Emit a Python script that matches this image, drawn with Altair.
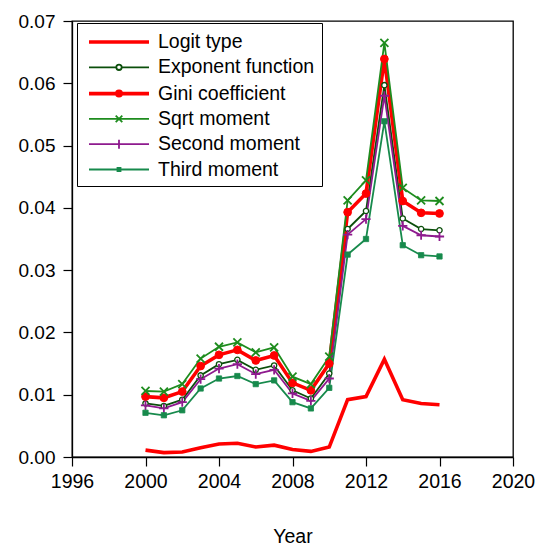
import altair as alt
import pandas as pd


years = list(range(2000, 2017))

logit = [0.0011, 0.0007, 0.0008, 0.0015, 0.0021, 0.0022, 0.0016, 0.0019, 0.0012,
         0.0009, 0.0016, 0.0092, 0.0097, 0.0157, 0.0092, 0.0086, 0.0084]
exponent = [0.0086, 0.0082, 0.0092, 0.0131, 0.0149, 0.0156, 0.0140, 0.0147, 0.0107,
            0.0094, 0.0134, 0.0366, 0.0395, 0.0597, 0.0383, 0.0366, 0.0364]
gini = [0.0097, 0.0095, 0.0105, 0.0146, 0.0164, 0.0172, 0.0155, 0.0163, 0.0119,
        0.0107, 0.0150, 0.0393, 0.0423, 0.0639, 0.0411, 0.0392, 0.0391]
sqrt_moment = [0.0106, 0.0105, 0.0117, 0.0158, 0.0177, 0.0184, 0.0168, 0.0176, 0.0129,
               0.0117, 0.0161, 0.0412, 0.0444, 0.0665, 0.0432, 0.0412, 0.0411]
second_moment = [0.0083, 0.0078, 0.0088, 0.0125, 0.0142, 0.0149, 0.0133, 0.0140, 0.0102,
                 0.0090, 0.0126, 0.0357, 0.0382, 0.0580, 0.0371, 0.0356, 0.0354]
third_moment = [0.0071, 0.0067, 0.0075, 0.0110, 0.0126, 0.0130, 0.0117, 0.0123, 0.0088,
                0.0078, 0.0111, 0.0325, 0.0350, 0.0539, 0.0340, 0.0324, 0.0322]

names = ['Logit type', 'Exponent function', 'Gini coefficient',
         'Sqrt moment', 'Second moment', 'Third moment']
series_values = [logit, exponent, gini, sqrt_moment, second_moment, third_moment]

x_ticks = [1996, 2000, 2004, 2008, 2012, 2016, 2020]
y_ticks = [0.00, 0.01, 0.02, 0.03, 0.04, 0.05, 0.06, 0.07]

# styles
RED = '#FF0000'
DKGREEN = '#0B4F0B'
GREEN = '#1E8C1E'
PURPLE = '#8E1A8E'
SEA = '#178A4C'
line_colors = [RED, DKGREEN, RED, GREEN, PURPLE, SEA]
line_widths = [3.6, 1.8, 3.6, 1.8, 1.8, 1.8]

marker_names = names[1:]
marker_shapes = ['circle', 'circle', 'M-1,-1L1,1M-1,1L1,-1', 'M0,-1V1M-1,0H1', 'square']
marker_fill = ['white', RED, GREEN, PURPLE, SEA]
marker_stroke = [DKGREEN, RED, GREEN, PURPLE, SEA]
marker_size = [28, 60, 64, 85, 28]
marker_sw = [1.3, 1.0, 1.8, 1.8, 0.8]

# legend symbols: a line with its marker as one path (1 unit = 10 px)
legend_shapes = [
    'M-3,0H3',
    'M-3,0H-0.27M0.27,0H3M0.27,0A0.27,0.27 0 1,1 -0.27,0A0.27,0.27 0 1,1 0.27,0Z',
    'M-3,0H3M0.22,0A0.22,0.22 0 1,1 -0.22,0A0.22,0.22 0 1,1 0.22,0Z',
    'M-3,0H3M-0.33,-0.33L0.33,0.33M-0.33,0.33L0.33,-0.33',
    'M-3,0H3M0,-0.45V0.45',
    'M-3,0H3M-0.15,-0.15H0.15V0.15H-0.15Z',
]
legend_fill = ['white', 'white', RED, GREEN, PURPLE, SEA]

FONT = 'Liberation Sans'

rows = []
for name, vals in zip(names, series_values):
    for yr, v in zip(years, vals):
        rows.append({'year': yr, 'value': v, 'series': name})
df = pd.DataFrame(rows)

x_enc = alt.X('year:Q').scale(domain=[1996, 2020], nice=False).axis(
    values=x_ticks, format='d', title='Year', labelFlush=False)
y_enc = alt.Y('value:Q').scale(domain=[0, 0.07], nice=False).axis(
    values=y_ticks, format='.2f', title=None, labelPadding=8, labelFontSize=19)


def ordinal(domain, rng):
    return alt.Scale(type='ordinal', domain=domain, range=rng)


lines = alt.Chart(df).mark_line().encode(
    x_enc,
    y_enc,
    stroke=alt.Stroke('series:N', scale=alt.Scale(domain=names, range=line_colors), legend=None),
    strokeWidth=alt.StrokeWidth('series:N', scale=ordinal(names, line_widths), legend=None),
)

points = alt.Chart(df).mark_point(opacity=1).encode(
    x_enc,
    y_enc,
    shape=alt.Shape('series:N', scale=alt.Scale(domain=marker_names, range=marker_shapes), legend=None),
    fill=alt.Fill('series:N', scale=alt.Scale(domain=marker_names, range=marker_fill), legend=None),
    stroke=alt.Stroke('series:N', scale=alt.Scale(domain=marker_names, range=marker_stroke), legend=None),
    size=alt.Size('series:N', scale=ordinal(marker_names, marker_size), legend=None),
    strokeWidth=alt.StrokeWidth('series:N', scale=ordinal(marker_names, marker_sw), legend=None),
).transform_filter(
    alt.datum.series != 'Logit type'
)

leg = alt.Legend(
    title=None, orient='none', legendX=5, legendY=2,
    symbolSize=400, labelFont=FONT, labelFontSize=19.5, labelColor='black',
    labelOffset=27, rowPadding=4.3, padding=7, symbolOffset=23,
    strokeColor='black', fillColor='white', cornerRadius=0
)

legend_layer = alt.Chart(df).mark_point(opacity=1).encode(
    x_enc,
    y_enc,
    shape=alt.Shape('series:N', scale=alt.Scale(domain=names, range=legend_shapes), legend=leg),
    fill=alt.Fill('series:N', scale=alt.Scale(domain=names, range=legend_fill), legend=leg),
    stroke=alt.Stroke('series:N', scale=alt.Scale(domain=names, range=line_colors), legend=leg),
    strokeWidth=alt.StrokeWidth('series:N', scale=ordinal(names, line_widths), legend=leg),
).transform_filter('false')

chart = alt.layer(lines, points, legend_layer).resolve_scale(
    stroke='independent', fill='independent', shape='independent',
    strokeWidth='independent', size='independent'
).resolve_legend(
    stroke='independent', fill='independent', shape='independent',
    strokeWidth='independent', size='independent'
).properties(
    width=441,
    height=436,
    autosize=alt.AutoSizeParams(type='none'),
    padding={'left': 64, 'top': 13, 'right': 22, 'bottom': 90},
    background='white'
).configure_view(
    stroke='black', strokeWidth=1.3
).configure_axis(
    grid=False, domainColor='black', domainWidth=1.3, tickColor='black', tickWidth=1.2,
    tickSize=9, labelFont=FONT, labelFontSize=19.5, labelColor='black', labelPadding=6,
    titleFont=FONT, titleFontSize=19.5, titleFontWeight='normal', titleColor='black',
    titlePadding=37
)

chart.save("out.html", embed_options={"renderer": "svg", "actions": False})
